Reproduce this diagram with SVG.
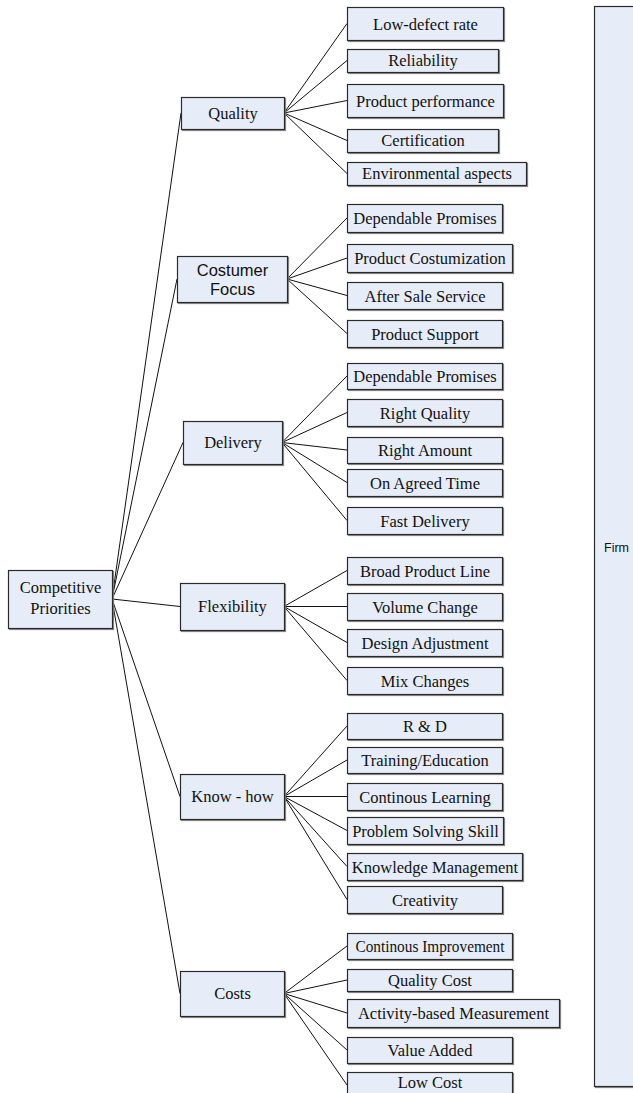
<svg xmlns="http://www.w3.org/2000/svg" width="633" height="1093" viewBox="0 0 633 1093">
  <defs>
    <filter id="sh" x="-5%" y="-5%" width="115%" height="115%">
      <feDropShadow dx="1" dy="1" stdDeviation="0.3" flood-color="#7a7a7a" flood-opacity="0.9"/>
    </filter>
  </defs>
  <style>
    .box { fill: #e7edf8; stroke: #2a2a2a; stroke-width: 1.2; filter: url(#sh); }
    .t { font-family: "Liberation Serif", "Times New Roman", serif; font-size: 16.5px; fill: #111; text-anchor: middle; }
    .s { font-family: "Liberation Sans", Arial, sans-serif; font-size: 16.5px; fill: #111; text-anchor: middle; }
    .links line { stroke: #111; stroke-width: 1; }
  </style>

  <!-- connectors -->
  <g class="links" id="connectors">
    <!-- root to categories -->
    <line x1="112" y1="599" x2="181" y2="113"/>
    <line x1="112" y1="599" x2="177" y2="279"/>
    <line x1="112" y1="599" x2="183" y2="442.5"/>
    <line x1="112" y1="599" x2="180" y2="606.5"/>
    <line x1="112" y1="599" x2="180" y2="796.5"/>
    <line x1="112" y1="599" x2="180" y2="993.5"/>
    <!-- Quality -->
    <line x1="284" y1="113" x2="347" y2="23.5"/>
    <line x1="284" y1="113" x2="347" y2="60.5"/>
    <line x1="284" y1="113" x2="347" y2="100.5"/>
    <line x1="284" y1="113" x2="347" y2="140.5"/>
    <line x1="284" y1="113" x2="347" y2="173.5"/>
    <!-- Costumer Focus -->
    <line x1="287" y1="279" x2="347" y2="218"/>
    <line x1="287" y1="279" x2="347" y2="258"/>
    <line x1="287" y1="279" x2="347" y2="295.5"/>
    <line x1="287" y1="279" x2="347" y2="333.5"/>
    <!-- Delivery -->
    <line x1="282" y1="442.5" x2="347" y2="376"/>
    <line x1="282" y1="442.5" x2="347" y2="412.5"/>
    <line x1="282" y1="442.5" x2="347" y2="450"/>
    <line x1="282" y1="442.5" x2="347" y2="482.5"/>
    <line x1="282" y1="442.5" x2="347" y2="520.5"/>
    <!-- Flexibility -->
    <line x1="284" y1="606.5" x2="347" y2="570.5"/>
    <line x1="284" y1="606.5" x2="347" y2="606.5"/>
    <line x1="284" y1="606.5" x2="347" y2="642.5"/>
    <line x1="284" y1="606.5" x2="347" y2="680.5"/>
    <!-- Know - how -->
    <line x1="284" y1="796.5" x2="347" y2="726"/>
    <line x1="284" y1="796.5" x2="347" y2="760"/>
    <line x1="284" y1="796.5" x2="347" y2="796.5"/>
    <line x1="284" y1="796.5" x2="347" y2="830.5"/>
    <line x1="284" y1="796.5" x2="347" y2="866.5"/>
    <line x1="284" y1="796.5" x2="347" y2="899.5"/>
    <!-- Costs -->
    <line x1="284" y1="993.5" x2="347" y2="946"/>
    <line x1="284" y1="993.5" x2="347" y2="980"/>
    <line x1="284" y1="993.5" x2="347" y2="1013"/>
    <line x1="284" y1="993.5" x2="347" y2="1050"/>
    <line x1="284" y1="993.5" x2="347" y2="1085"/>
  </g>

  <!-- firm frame, running off the right edge -->
  <g id="firm">
    <rect class="box" x="594.5" y="6.5" width="60" height="1080"/>
    <text x="604" y="552" font-family="Liberation Sans, Arial, sans-serif" font-size="12.5" fill="#111">Firm</text>
  </g>

  <!-- root -->
  <g id="competitive-priorities">
    <rect class="box" x="8.5" y="570.5" width="104" height="58"/>
    <text class="t" x="60.5" y="593">Competitive</text>
    <text class="t" x="60.5" y="614">Priorities</text>
  </g>

  <!-- categories -->
  <g id="quality">
    <rect class="box" x="181.5" y="97.5" width="103" height="32"/>
    <text class="t" x="233" y="119">Quality</text>
  </g>
  <g id="costumer-focus">
    <rect class="box" x="177.5" y="256.5" width="110" height="46"/>
    <text class="s" x="232.5" y="276">Costumer</text>
    <text class="s" x="232.5" y="294.5">Focus</text>
  </g>
  <g id="delivery">
    <rect class="box" x="183.5" y="421.5" width="99" height="43"/>
    <text class="t" x="233" y="448">Delivery</text>
  </g>
  <g id="flexibility">
    <rect class="box" x="180.5" y="583.5" width="104" height="47"/>
    <text class="t" x="232.5" y="612">Flexibility</text>
  </g>
  <g id="know-how">
    <rect class="box" x="180.5" y="774.5" width="104" height="45"/>
    <text class="t" x="232.5" y="802">Know - how</text>
  </g>
  <g id="costs">
    <rect class="box" x="180.5" y="971.5" width="104" height="45"/>
    <text class="t" x="232.5" y="999">Costs</text>
  </g>

  <!-- Quality items -->
  <g id="low-defect-rate"><rect class="box" x="347.5" y="7.5" width="156" height="33"/><text class="t" x="425.5" y="29.5">Low-defect rate</text></g>
  <g id="reliability"><rect class="box" x="347.5" y="49.5" width="151" height="23"/><text class="t" x="423" y="66">Reliability</text></g>
  <g id="product-performance"><rect class="box" x="347.5" y="84.5" width="156" height="33"/><text class="t" x="425.5" y="106.5">Product performance</text></g>
  <g id="certification"><rect class="box" x="347.5" y="129.5" width="151" height="23"/><text class="t" x="423" y="146">Certification</text></g>
  <g id="environmental-aspects"><rect class="box" x="347.5" y="162.5" width="179" height="23"/><text class="t" x="437" y="179">Environmental aspects</text></g>

  <!-- Costumer Focus items -->
  <g id="cf-dependable-promises"><rect class="box" x="347.5" y="204.5" width="155" height="28"/><text class="t" x="425" y="224">Dependable Promises</text></g>
  <g id="product-costumization"><rect class="box" x="347.5" y="244.5" width="165" height="28"/><text class="t" x="430" y="264">Product Costumization</text></g>
  <g id="after-sale-service"><rect class="box" x="347.5" y="282.5" width="155" height="27"/><text class="t" x="425" y="301.5">After Sale Service</text></g>
  <g id="product-support"><rect class="box" x="347.5" y="320.5" width="155" height="27"/><text class="t" x="425" y="339.5">Product Support</text></g>

  <!-- Delivery items -->
  <g id="dl-dependable-promises"><rect class="box" x="347.5" y="363.5" width="155" height="26"/><text class="t" x="425" y="382">Dependable Promises</text></g>
  <g id="right-quality"><rect class="box" x="347.5" y="399.5" width="155" height="27"/><text class="t" x="425" y="418.5">Right Quality</text></g>
  <g id="right-amount"><rect class="box" x="347.5" y="437.5" width="155" height="26"/><text class="t" x="425" y="456">Right Amount</text></g>
  <g id="on-agreed-time"><rect class="box" x="347.5" y="469.5" width="155" height="27"/><text class="t" x="425" y="488.5">On Agreed Time</text></g>
  <g id="fast-delivery"><rect class="box" x="347.5" y="507.5" width="155" height="27"/><text class="t" x="425" y="526.5">Fast Delivery</text></g>

  <!-- Flexibility items -->
  <g id="broad-product-line"><rect class="box" x="347.5" y="557.5" width="155" height="27"/><text class="t" x="425" y="576.5">Broad Product Line</text></g>
  <g id="volume-change"><rect class="box" x="347.5" y="593.5" width="155" height="27"/><text class="t" x="425" y="612.5">Volume Change</text></g>
  <g id="design-adjustment"><rect class="box" x="347.5" y="629.5" width="155" height="27"/><text class="t" x="425" y="648.5">Design Adjustment</text></g>
  <g id="mix-changes"><rect class="box" x="347.5" y="667.5" width="155" height="27"/><text class="t" x="425" y="686.5">Mix Changes</text></g>

  <!-- Know - how items -->
  <g id="r-and-d"><rect class="box" x="347.5" y="713.5" width="155" height="26"/><text class="t" x="425" y="732">R &amp; D</text></g>
  <g id="training-education"><rect class="box" x="347.5" y="747.5" width="155" height="26"/><text class="t" x="425" y="766">Training/Education</text></g>
  <g id="continous-learning"><rect class="box" x="347.5" y="783.5" width="155" height="27"/><text class="t" x="425" y="802.5">Continous Learning</text></g>
  <g id="problem-solving-skill"><rect class="box" x="347.5" y="817.5" width="156" height="27"/><text class="t" x="425.5" y="836.5">Problem Solving Skill</text></g>
  <g id="knowledge-management"><rect class="box" x="347.5" y="853.5" width="175" height="27"/><text class="t" x="435" y="872.5">Knowledge Management</text></g>
  <g id="creativity"><rect class="box" x="347.5" y="886.5" width="155" height="27"/><text class="t" x="425" y="905.5">Creativity</text></g>

  <!-- Costs items -->
  <g id="continous-improvement"><rect class="box" x="347.5" y="933.5" width="165" height="26"/><text class="t" x="430" y="952" textLength="149" lengthAdjust="spacingAndGlyphs">Continous Improvement</text></g>
  <g id="quality-cost"><rect class="box" x="347.5" y="969.5" width="165" height="22"/><text class="t" x="430" y="986">Quality Cost</text></g>
  <g id="activity-based-measurement"><rect class="box" x="347.5" y="999.5" width="212" height="28"/><text class="t" x="453.5" y="1019">Activity-based Measurement</text></g>
  <g id="value-added"><rect class="box" x="347.5" y="1037.5" width="165" height="26"/><text class="t" x="430" y="1056">Value Added</text></g>
  <g id="low-cost"><rect class="box" x="347.5" y="1072.5" width="165" height="26"/><text class="t" x="430" y="1088">Low Cost</text></g>
</svg>
